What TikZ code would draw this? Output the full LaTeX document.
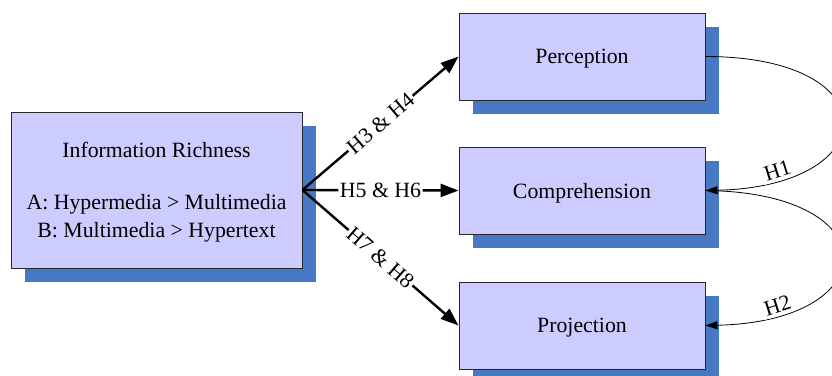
\documentclass[tikz,border=0pt]{standalone}
\usepackage{fontspec}
\setmainfont{Liberation Serif}
\newfontfamily\tnr{Liberation Serif}
\usetikzlibrary{arrows.meta,shadows}
\definecolor{boxfill}{RGB}{204,204,255}
\definecolor{shadowblue}{RGB}{70,120,195}
\definecolor{boxline}{RGB}{40,40,40}
\begin{document}
\begin{tikzpicture}[x=1pt,y=-1pt,
  every node/.style={font=\tnr\fontsize{21.8pt}{28pt}\selectfont},
  mbox/.style={draw=boxline,line width=0.9pt,fill=boxfill,inner sep=0pt,text depth=0pt,
    general shadow={fill=shadowblue,shadow xshift=14pt,shadow yshift=-14pt}},
  bigarrow/.style={line width=2.4pt,-{Triangle[length=18pt,width=13pt]}},
  curvearrow/.style={line width=0.8pt,-{Triangle[length=12pt,width=8pt]}},
  lbl/.style={sloped,fill=white,inner sep=1.5pt},
  clbl/.style={sloped,fill=white,inner sep=3pt,above=-1pt}]
\useasboundingbox (0,0) rectangle (832,375);
\clip (0,0) rectangle (832,375);
\node[mbox,minimum width=291pt,minimum height=156pt,align=center] (info) at (156.5,190)
  {Information Richness\\[24pt]A: Hypermedia > Multimedia\\B: Multimedia > Hypertext};
\node[mbox,minimum width=246pt,minimum height=87pt] (perc) at (582,56.5) {Perception};
\node[mbox,minimum width=246pt,minimum height=87pt] (comp) at (582,190.5) {Comprehension};
\node[mbox,minimum width=246pt,minimum height=87pt] (proj) at (582,325.5) {Projection};
\draw[bigarrow] (info.east) -- node[lbl,pos=0.5] {H3 \& H4} (perc.west);
\draw[bigarrow] (info.east) -- node[lbl,pos=0.5] {H5 \& H6} (comp.west);
\draw[bigarrow] (info.east) -- node[lbl,pos=0.5] {H7 \& H8} (proj.west);
\draw[curvearrow] (perc.east) .. controls +(185,0) and +(180,-4) .. node[clbl,pos=0.835] {H1} (comp.east);
\draw[curvearrow] (comp.east) .. controls +(185,2) and +(180,-4) .. node[clbl,pos=0.835] {H2} (proj.east);
\end{tikzpicture}
\end{document}
